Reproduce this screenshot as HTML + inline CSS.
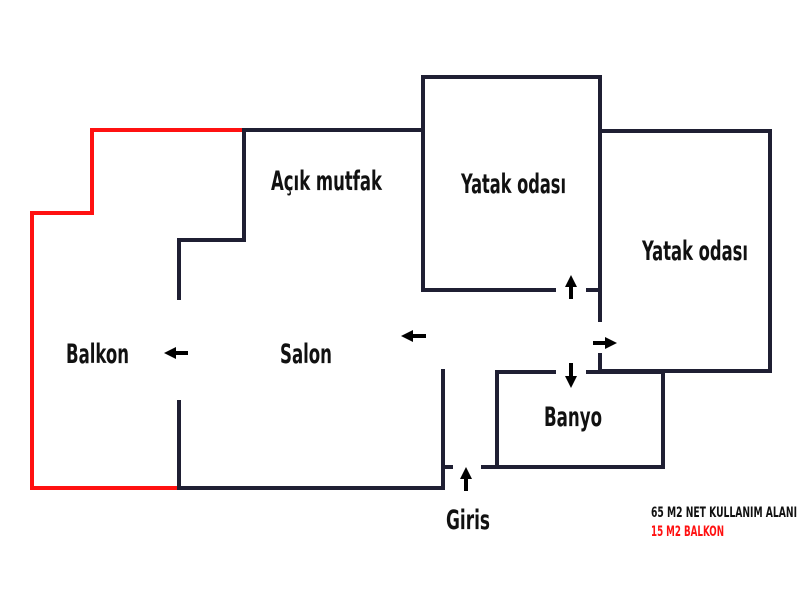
<!DOCTYPE html>
<html><head><meta charset="utf-8"><style>
html,body{margin:0;padding:0;background:#fff;width:800px;height:600px;overflow:hidden}
text{font-family:"Liberation Sans Narrow","DejaVu Sans Condensed","Liberation Sans",sans-serif;font-weight:bold}
</style></head><body>
<svg width="800" height="600" viewBox="0 0 800 600">
<defs>
<marker id="a" markerWidth="3" markerHeight="3" refX="0.5" refY="1.5" orient="auto" markerUnits="strokeWidth"><path d="M0,0 L3,1.5 L0,3Z" fill="#000"/></marker>
</defs>
<g fill="none" stroke-width="4" stroke-linecap="square">
<polyline stroke="#ff1111" points="244,130 92,130 92,213 32,213 32,488 179,488"/>
<g stroke="#1f1f33">
<polyline points="244,130 423,130"/>
<polyline points="244,130 244,240 179,240 179,298"/>
<polyline points="179,402 179,488 443,488 443,371"/>
<polyline points="443,467 451,467"/>
<polyline points="483,467 663,467"/>
<polyline points="497,467 497,372 554,372"/>
<polyline points="588,372 663,372 663,467"/>
<polyline points="600,355 600,371"/>
<polyline points="600,371 770,371 770,131 600,131 600,77 423,77 423,290 554,290"/>
<polyline points="588,290 600,290"/>
<polyline points="600,77 600,320"/>
</g>
</g>
<g stroke="#000" stroke-width="4" marker-end="url(#a)">
<line x1="188" y1="353" x2="174" y2="353"/>
<line x1="426" y1="336" x2="411" y2="336"/>
<line x1="571" y1="299" x2="571" y2="285"/>
<line x1="593" y1="343" x2="607" y2="343"/>
<line x1="571" y1="363" x2="571" y2="378"/>
<line x1="466" y1="491" x2="466" y2="477"/>
</g>
<g fill="#111" font-size="27">
<text x="271" y="190" textLength="111" lengthAdjust="spacingAndGlyphs">Açık mutfak</text>
<text x="461" y="193" textLength="105" lengthAdjust="spacingAndGlyphs">Yatak odası</text>
<text x="642" y="260" textLength="106" lengthAdjust="spacingAndGlyphs">Yatak odası</text>
<text x="66" y="363" textLength="63" lengthAdjust="spacingAndGlyphs">Balkon</text>
<text x="280" y="363" textLength="52" lengthAdjust="spacingAndGlyphs">Salon</text>
<text x="544" y="426" textLength="58" lengthAdjust="spacingAndGlyphs">Banyo</text>
<text x="446" y="529" textLength="44" lengthAdjust="spacingAndGlyphs">Giris</text>
<text x="651" y="517" font-size="14" textLength="146" lengthAdjust="spacingAndGlyphs">65 M2 NET KULLANIM ALANI</text>
<text x="651" y="536" font-size="14" fill="#ff1111" textLength="73" lengthAdjust="spacingAndGlyphs">15 M2 BALKON</text>
</g>
</svg>
</body></html>
